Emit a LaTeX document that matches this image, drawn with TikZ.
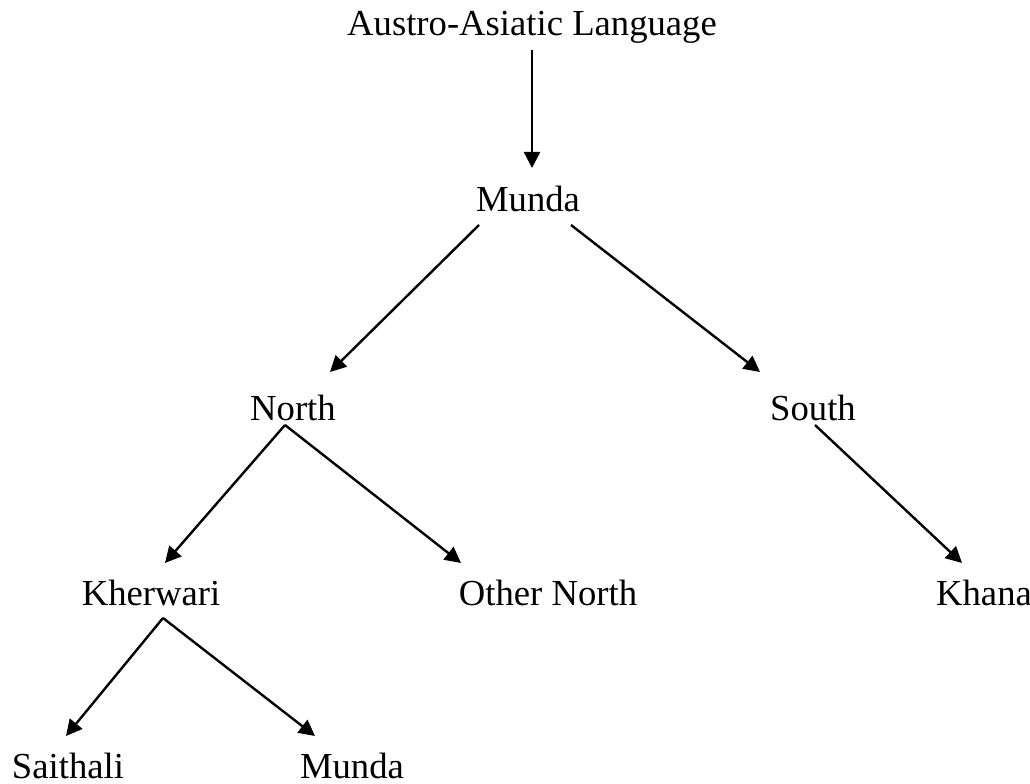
\documentclass[tikz,border=0pt]{standalone}
\usepackage{fontspec}
\setmainfont{Liberation Serif}
\usetikzlibrary{arrows.meta,calc}
\begin{document}
\begin{tikzpicture}[x=0.75pt,y=-0.75pt,
  lang/.style={inner sep=0pt,anchor=base,font=\fontsize{27.5}{30}\selectfont},
  branch/.style={line width=1.8pt,-{Triangle[length=12pt,width=12pt]}}]
\useasboundingbox (0,0) rectangle (1030,784);

% language family tree
\node[lang] (aa)       at (532,36)  {Austro-Asiatic Language};
\node[lang] (munda)    at (528,211) {Munda};
\node[lang] (north)    at (293,420) {North};
\node[lang] (south)    at (813,420) {South};
\node[lang] (kherwari) at (151,605) {Kherwari};
\node[lang] (other)    at (548,605) {Other North};
\node[lang] (khana)    at (984,605) {Khana};
\node[lang] (saithali) at (68,778)  {Saithali};
\node[lang] (mundab)   at (352,778) {Munda};

\draw[branch] ($(aa.base)+(0,14)$) -- ($(munda.base)+(4,-43)$);
\draw[branch] ($(munda.base)+(-49,14)$) -- ($(north.base)+(37,-48)$);
\draw[branch] ($(munda.base)+(43,14)$) -- ($(south.base)+(-53,-48)$);
\draw[branch] ($(north.base)+(-8,5)$) -- ($(kherwari.base)+(14,-42)$);
\draw[branch] ($(north.base)+(-8,5)$) -- ($(other.base)+(-87,-42)$);
\draw[branch] ($(south.base)+(2,5)$) -- ($(khana.base)+(-22,-42)$);
\draw[branch] ($(kherwari.base)+(12,13)$) -- ($(saithali.base)+(-2,-42)$);
\draw[branch] ($(kherwari.base)+(12,13)$) -- ($(mundab.base)+(-37,-42)$);
\end{tikzpicture}
\end{document}
